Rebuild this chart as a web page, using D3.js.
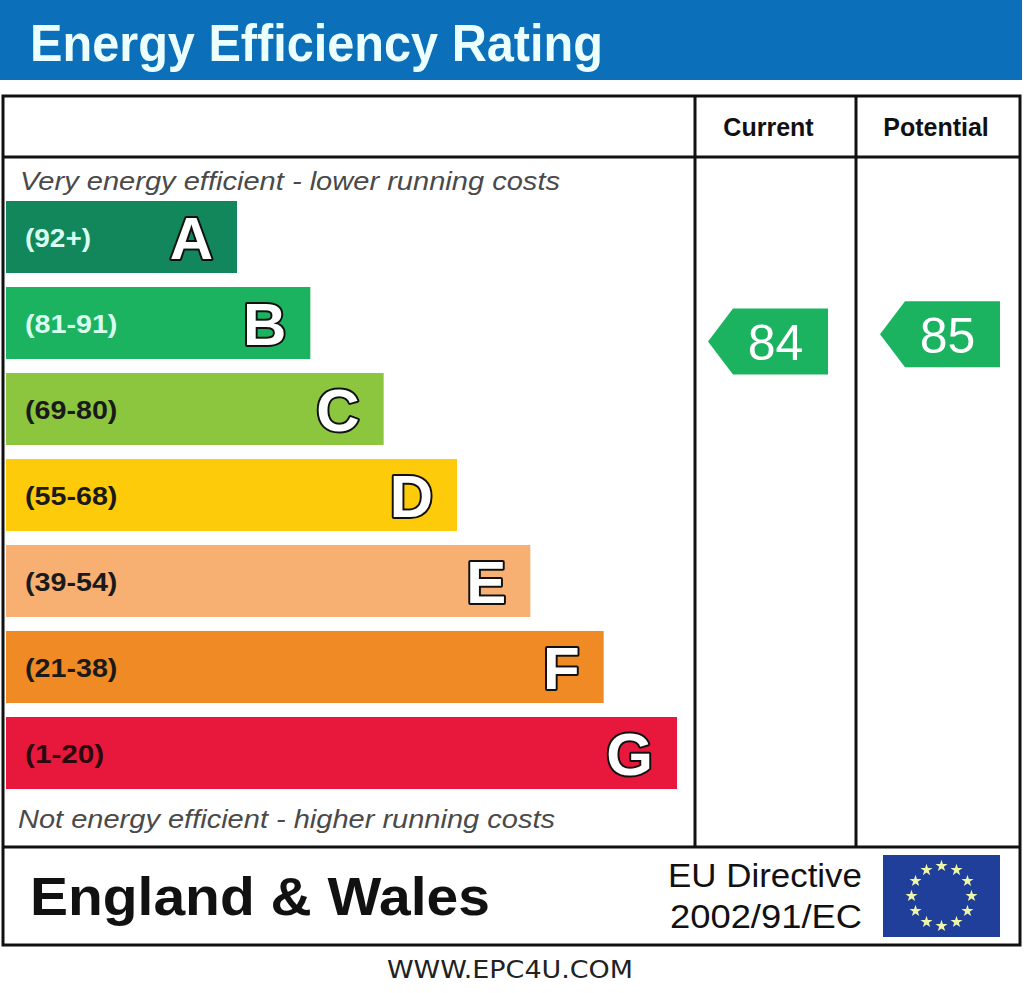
<!DOCTYPE html>
<html>
<head>
<meta charset="utf-8">
<script src="https://cdn.jsdelivr.net/npm/d3@7"></script>
<style>
  body { margin: 0; background: #fff; }
  svg { display: block; }
</style>
</head>
<body>
<div id="chart"></div>
<script>
// rating bands, top (best) to bottom (worst)
const grades = ["A", "B", "C", "D", "E", "F", "G"];
const rangeLabels = ["(92+)", "(81-91)", "(69-80)", "(55-68)", "(39-54)", "(21-38)", "(1-20)"];
const bandMin = [92, 81, 69, 55, 39, 21, 1];
const bandMax = [100, 91, 80, 68, 54, 38, 20];
const barColors = ["#11875b", "#1bb35f", "#8cc63f", "#fdcb0a", "#f8b072", "#f08a24", "#e8173c"];
const rangeColors = ["#d9fff0", "#d9fff0", "#1a1a1a", "#1a1a1a", "#1a1a1a", "#1a1a1a", "#2a0a0e"];

const columns = ["Current", "Potential"];
const ratings = [84, 85];

const width = 1024, height = 993;

var svg = d3.select("#chart").append("svg")
    .attr("width", width)
    .attr("height", height)
    .attr("viewBox", [0, 0, width, height]);

const font = "'Liberation Sans', Arial, sans-serif";

// Header band
svg.append("rect")
    .attr("x", 0).attr("y", 0)
    .attr("width", 1022).attr("height", 80)
    .attr("fill", "#0b6fb9");

svg.append("text")
    .attr("x", 30).attr("y", 61)
    .attr("font-family", font)
    .attr("font-weight", "bold")
    .attr("font-size", 52)
    .attr("fill", "#ecffff")
    .attr("textLength", 573)
    .attr("lengthAdjust", "spacingAndGlyphs")
    .text("Energy Efficiency Rating");

// Table frame
const frame = { left: 3, right: 1020, top: 96, bottom: 945, headBottom: 157, footTop: 847 };
const colX = [695, 856];

const lines = svg.append("g")
    .attr("stroke", "#111")
    .attr("stroke-width", 3)
    .attr("fill", "none");

lines.append("rect")
    .attr("x", frame.left).attr("y", frame.top)
    .attr("width", frame.right - frame.left)
    .attr("height", frame.bottom - frame.top);

lines.append("line")
    .attr("x1", frame.left).attr("x2", frame.right)
    .attr("y1", frame.headBottom).attr("y2", frame.headBottom);

lines.append("line")
    .attr("x1", frame.left).attr("x2", frame.right)
    .attr("y1", frame.footTop).attr("y2", frame.footTop);

lines.selectAll("line.col")
    .data(colX)
    .enter().append("line")
    .attr("class", "col")
    .attr("x1", d => d).attr("x2", d => d)
    .attr("y1", frame.top).attr("y2", frame.footTop);

// Column headings
const colRight = [colX[1], frame.right];
const headShift = [-7, -2];
svg.selectAll("text.colhead")
    .data(columns)
    .enter().append("text")
    .attr("class", "colhead")
    .attr("x", (d, i) => (colX[i] + colRight[i]) / 2 + headShift[i])
    .attr("y", 136)
    .attr("text-anchor", "middle")
    .attr("font-family", font)
    .attr("font-weight", "bold")
    .attr("font-size", 25)
    .attr("fill", "#111")
    .text(d => d);

// Captions
svg.append("text")
    .attr("x", 20).attr("y", 190)
    .attr("font-family", font)
    .attr("font-style", "italic")
    .attr("font-size", 26)
    .attr("fill", "#4a4a4a")
    .attr("textLength", 540)
    .attr("lengthAdjust", "spacingAndGlyphs")
    .text("Very energy efficient - lower running costs");

svg.append("text")
    .attr("x", 18).attr("y", 828)
    .attr("font-family", font)
    .attr("font-style", "italic")
    .attr("font-size", 26)
    .attr("fill", "#4a4a4a")
    .attr("textLength", 537)
    .attr("lengthAdjust", "spacingAndGlyphs")
    .text("Not energy efficient - higher running costs");

// Bars
const y = d3.scaleBand()
    .domain(grades)
    .range([201, 789])
    .paddingInner(14 / 86)
    .paddingOuter(0);

const xEnd = d3.scaleLinear()
    .domain([0, grades.length - 1])
    .range([237, 677]);

const barX = 6;

const bars = svg.append("g")
    .selectAll("g")
    .data(grades)
    .enter().append("g")
    .attr("transform", d => `translate(0,${y(d)})`);

bars.append("rect")
    .attr("x", barX)
    .attr("width", (d, i) => xEnd(i) - barX)
    .attr("height", y.bandwidth())
    .attr("fill", (d, i) => barColors[i]);

bars.append("text")
    .attr("x", 25)
    .attr("y", y.bandwidth() / 2 + 10)
    .attr("font-family", font)
    .attr("font-weight", "bold")
    .attr("font-size", 26)
    .attr("fill", (d, i) => rangeColors[i])
    .attr("textLength", (d, i) => rangeLabels[i].length * 13.2)
    .attr("lengthAdjust", "spacingAndGlyphs")
    .text((d, i) => rangeLabels[i]);

bars.append("text")
    .attr("x", (d, i) => xEnd(i) - 24)
    .attr("y", y.bandwidth() / 2 + 22)
    .attr("text-anchor", "end")
    .attr("font-family", font)
    .attr("font-weight", "bold")
    .attr("font-size", 60)
    .attr("fill", "#fff")
    .attr("stroke", "#111")
    .attr("stroke-width", 4)
    .attr("stroke-linejoin", "round")
    .attr("paint-order", "stroke")
    .text(d => d);

// Rating arrows, placed by value inside their band
function bandIndex(v) {
    return bandMin.findIndex((m, i) => v >= m && v <= bandMax[i]);
}

function ratingY(v) {
    const i = bandIndex(v);
    const g = grades[i];
    const s = d3.scaleLinear()
        .domain([bandMin[i], bandMax[i]])
        .range([y(g) + y.bandwidth() + 4, y(g) + 4]);
    return s(v);
}

const arrowLeft = [708, 880];
const arrowW = 120, arrowH = 66, arrowTip = 25;

const arrows = svg.append("g")
    .selectAll("g")
    .data(ratings)
    .enter().append("g")
    .attr("transform", (d, i) => `translate(${arrowLeft[i]},${ratingY(d)})`);

arrows.append("path")
    .attr("d", `M0,0 L${arrowTip},${-arrowH / 2} L${arrowW},${-arrowH / 2} L${arrowW},${arrowH / 2} L${arrowTip},${arrowH / 2} Z`)
    .attr("fill", (d) => barColors[bandIndex(d)]);

arrows.append("text")
    .attr("x", arrowTip + (arrowW - arrowTip) / 2 - 5)
    .attr("y", 19)
    .attr("text-anchor", "middle")
    .attr("font-family", font)
    .attr("font-size", 50)
    .attr("fill", "#fff")
    .text(d => d);

// Footer
svg.append("text")
    .attr("x", 30).attr("y", 915)
    .attr("font-family", font)
    .attr("font-weight", "bold")
    .attr("font-size", 53)
    .attr("fill", "#111")
    .attr("textLength", 460)
    .attr("lengthAdjust", "spacingAndGlyphs")
    .text("England & Wales");

svg.append("text")
    .attr("x", 668).attr("y", 887)
    .attr("font-family", font)
    .attr("font-size", 34)
    .attr("fill", "#111")
    .attr("textLength", 194)
    .attr("lengthAdjust", "spacingAndGlyphs")
    .text("EU Directive");

svg.append("text")
    .attr("x", 670).attr("y", 928)
    .attr("font-family", font)
    .attr("font-size", 34)
    .attr("fill", "#111")
    .attr("textLength", 192)
    .attr("lengthAdjust", "spacingAndGlyphs")
    .text("2002/91/EC");

// EU flag
const flag = { x: 883, y: 855, w: 117, h: 82 };
svg.append("rect")
    .attr("x", flag.x).attr("y", flag.y)
    .attr("width", flag.w).attr("height", flag.h)
    .attr("fill", "#1f3f9b");

const starAngles = d3.range(12).map(i => i * Math.PI / 6);
const starR = 30;
svg.append("g")
    .selectAll("path")
    .data(starAngles)
    .enter().append("path")
    .attr("d", d3.symbol(d3.symbolStar, 45))
    .attr("transform", a => `translate(${flag.x + flag.w / 2 + starR * Math.sin(a)},${flag.y + flag.h / 2 - starR * Math.cos(a)})`)
    .attr("fill", "#eef7a8");

svg.append("text")
    .attr("x", 510).attr("y", 978)
    .attr("text-anchor", "middle")
    .attr("font-family", "'DejaVu Sans', sans-serif")
    .attr("font-size", 24)
    .attr("fill", "#222")
    .attr("textLength", 246)
    .attr("lengthAdjust", "spacingAndGlyphs")
    .text("WWW.EPC4U.COM");
</script>
</body>
</html>
